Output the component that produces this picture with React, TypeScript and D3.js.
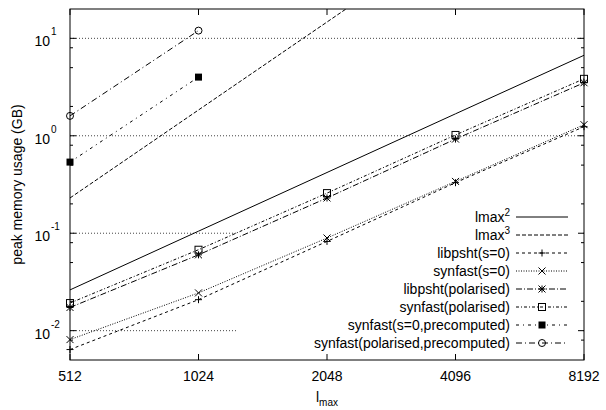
import React from "react";
import * as d3 from "d3";

const lmaxValues = [512, 1024, 2048, 4096, 8192];
const xTickLabels = ["512", "1024", "2048", "4096", "8192"];
const yMajorExps = [-2, -1, 0, 1];
const yMinorMultipliers = [2, 5, 8];

const lmax2 = [0.0262, 0.105, 0.42, 1.68, 6.7];
const lmax3 = [0.23, 1.84, 14.7, 118, 944];
const libpshtS0 = [0.0064, 0.0208, 0.0824, 0.33, 1.24];
const synfastS0 = [0.0081, 0.0244, 0.0893, 0.34, 1.3];
const libpshtPol = [0.0173, 0.06, 0.23, 0.925, 3.5];
const synfastPol = [0.0192, 0.0677, 0.258, 1.02, 3.84];
const precompLmax = [512, 1024];
const synfastS0Pre = [0.537, 4.0];
const synfastPolPre = [1.6, 12.0];

type Marker = "none" | "plus" | "cross" | "star" | "square" | "fsquare" | "circle";
interface Series {
  label: string;
  sup?: string;
  xs: number[];
  ys: number[];
  dash: string;
  marker: Marker;
  showMarkers: boolean;
}

const series: Series[] = [
  { label: "lmax", sup: "2", xs: lmaxValues, ys: lmax2, dash: "", marker: "none", showMarkers: false },
  { label: "lmax", sup: "3", xs: lmaxValues, ys: lmax3, dash: "4,2", marker: "none", showMarkers: false },
  { label: "libpsht(s=0)", xs: lmaxValues, ys: libpshtS0, dash: "3,3", marker: "plus", showMarkers: true },
  { label: "synfast(s=0)", xs: lmaxValues, ys: synfastS0, dash: "1,1.5", marker: "cross", showMarkers: true },
  { label: "libpsht(polarised)", xs: lmaxValues, ys: libpshtPol, dash: "6,2,1,2", marker: "star", showMarkers: true },
  { label: "synfast(polarised)", xs: lmaxValues, ys: synfastPol, dash: "3,2,1,2", marker: "square", showMarkers: true },
  { label: "synfast(s=0,precomputed)", xs: precompLmax, ys: synfastS0Pre, dash: "3,4,1,4", marker: "fsquare", showMarkers: true },
  { label: "synfast(polarised,precomputed)", xs: precompLmax, ys: synfastPolPre, dash: "6,3,1,3", marker: "circle", showMarkers: true },
];

const W = 606;
const H = 410;
const M = { left: 70, right: 584, top: 9, bottom: 360 };
const FONT = "'Liberation Sans', Arial, sans-serif";

function MarkerShape({ type, x, y }: { type: Marker; x: number; y: number }) {
  const s = 3.5;
  const st = { stroke: "#000", strokeWidth: 1, fill: "none" };
  switch (type) {
    case "plus":
      return <path d={`M${x - s},${y}H${x + s}M${x},${y - s}V${y + s}`} {...st} />;
    case "cross":
      return <path d={`M${x - s},${y - s}L${x + s},${y + s}M${x - s},${y + s}L${x + s},${y - s}`} {...st} />;
    case "star":
      return (
        <path
          d={`M${x - s},${y}H${x + s}M${x},${y - s}V${y + s}M${x - s},${y - s}L${x + s},${y + s}M${x - s},${y + s}L${x + s},${y - s}`}
          {...st}
        />
      );
    case "square":
      return <rect x={x - s} y={y - s} width={2 * s} height={2 * s} {...st} />;
    case "fsquare":
      return <rect x={x - s} y={y - s} width={2 * s} height={2 * s} fill="#000" />;
    case "circle":
      return <circle cx={x} cy={y} r={s} {...st} />;
    default:
      return null;
  }
}

export default function App() {
  const x = d3.scaleLog().base(2).domain([512, 8192]).range([M.left, M.right]);
  const y = d3.scaleLog().base(10).domain([0.005, 20]).range([M.bottom, M.top]);

  const line = (xs: number[], ys: number[]) =>
    d3.line<number>().x((_, i) => x(xs[i])).y((d) => y(d))(ys) || "";

  const minorTicks: number[] = [];
  for (let e = -3; e <= 1; e++) {
    for (const m of yMinorMultipliers) {
      const v = m * Math.pow(10, e);
      if (v > 0.005 && v < 20) minorTicks.push(v);
    }
  }

  const legendRight = 510;
  const sampleX0 = 516;
  const sampleX1 = 568;
  const rowH = 18;
  const lastRowY = 343;
  const rowY = (i: number) => lastRowY - (series.length - 1 - i) * rowH;

  return (
    <svg
      width={W}
      height={H}
      style={{ position: "absolute", left: 0, top: 0, background: "#fff" }}
      fontFamily={FONT}
    >
      <defs>
        <clipPath id="plotclip">
          <rect x={M.left} y={M.top} width={M.right - M.left} height={M.bottom - M.top} />
        </clipPath>
      </defs>
      <rect x={0} y={0} width={W} height={H} fill="#fff" />

      {/* grid */}
      {yMajorExps.map((e) => (
        <line
          key={e}
          x1={M.left}
          x2={M.right}
          y1={y(Math.pow(10, e))}
          y2={y(Math.pow(10, e))}
          stroke="#444"
          strokeWidth={1}
          strokeDasharray="1,2"
        />
      ))}

      {/* opaque key box */}
      <rect x={238} y={rowY(0) - 10} width={M.right - 238 - 1} height={M.bottom - (rowY(0) - 10) - 1} fill="#fff" />

      {/* series */}
      <g clipPath="url(#plotclip)">
        {series.map((s, i) => (
          <path key={i} d={line(s.xs, s.ys)} fill="none" stroke="#000" strokeWidth={1} strokeDasharray={s.dash || undefined} />
        ))}
      </g>
      {series.map((s, i) =>
        s.showMarkers
          ? s.xs.map((xv, j) => <MarkerShape key={`${i}-${j}`} type={s.marker} x={x(xv)} y={y(s.ys[j])} />)
          : null
      )}

      {/* legend */}
      {series.map((s, i) => {
        const ry = rowY(i);
        return (
          <g key={`leg${i}`}>
            <text x={legendRight} y={ry + 5} textAnchor="end" fontSize={14}>
              {s.label}
              {s.sup ? (
                <tspan fontSize={10} dy={-6}>
                  {s.sup}
                </tspan>
              ) : null}
            </text>
            <line x1={sampleX0} x2={sampleX1} y1={ry} y2={ry} stroke="#000" strokeWidth={1} strokeDasharray={s.dash || undefined} />
            {s.showMarkers ? <MarkerShape type={s.marker} x={(sampleX0 + sampleX1) / 2} y={ry} /> : null}
          </g>
        );
      })}

      {/* axes frame */}
      <rect x={M.left} y={M.top} width={M.right - M.left} height={M.bottom - M.top} fill="none" stroke="#000" strokeWidth={1} />

      {/* x ticks */}
      {lmaxValues.map((v, i) => (
        <g key={`xt${i}`}>
          <line x1={x(v)} x2={x(v)} y1={M.bottom} y2={M.bottom - 6} stroke="#000" />
          <line x1={x(v)} x2={x(v)} y1={M.top} y2={M.top + 6} stroke="#000" />
          <text x={x(v)} y={M.bottom + 21} textAnchor="middle" fontSize={14}>
            {xTickLabels[i]}
          </text>
        </g>
      ))}

      {/* y ticks */}
      {yMajorExps.map((e) => {
        const yy = y(Math.pow(10, e));
        return (
          <g key={`yt${e}`}>
            <line x1={M.left} x2={M.left + 6} y1={yy} y2={yy} stroke="#000" />
            <line x1={M.right} x2={M.right - 6} y1={yy} y2={yy} stroke="#000" />
            <text x={50} y={yy + 8} textAnchor="end" fontSize={14}>
              10
            </text>
            <text x={51} y={yy - 3} textAnchor="start" fontSize={10}>
              {String(e).replace("-", "-")}
            </text>
          </g>
        );
      })}
      {minorTicks.map((v, i) => (
        <g key={`ym${i}`}>
          <line x1={M.left} x2={M.left + 3} y1={y(v)} y2={y(v)} stroke="#000" />
          <line x1={M.right} x2={M.right - 3} y1={y(v)} y2={y(v)} stroke="#000" />
        </g>
      ))}

      {/* axis labels */}
      <text x={327} y={402} textAnchor="middle" fontSize={14}>
        l
        <tspan fontSize={10} dy={4}>
          max
        </tspan>
      </text>
      <text transform={`translate(22,${(M.top + M.bottom) / 2}) rotate(-90)`} textAnchor="middle" fontSize={14}>
        peak memory usage (GB)
      </text>
    </svg>
  );
}
